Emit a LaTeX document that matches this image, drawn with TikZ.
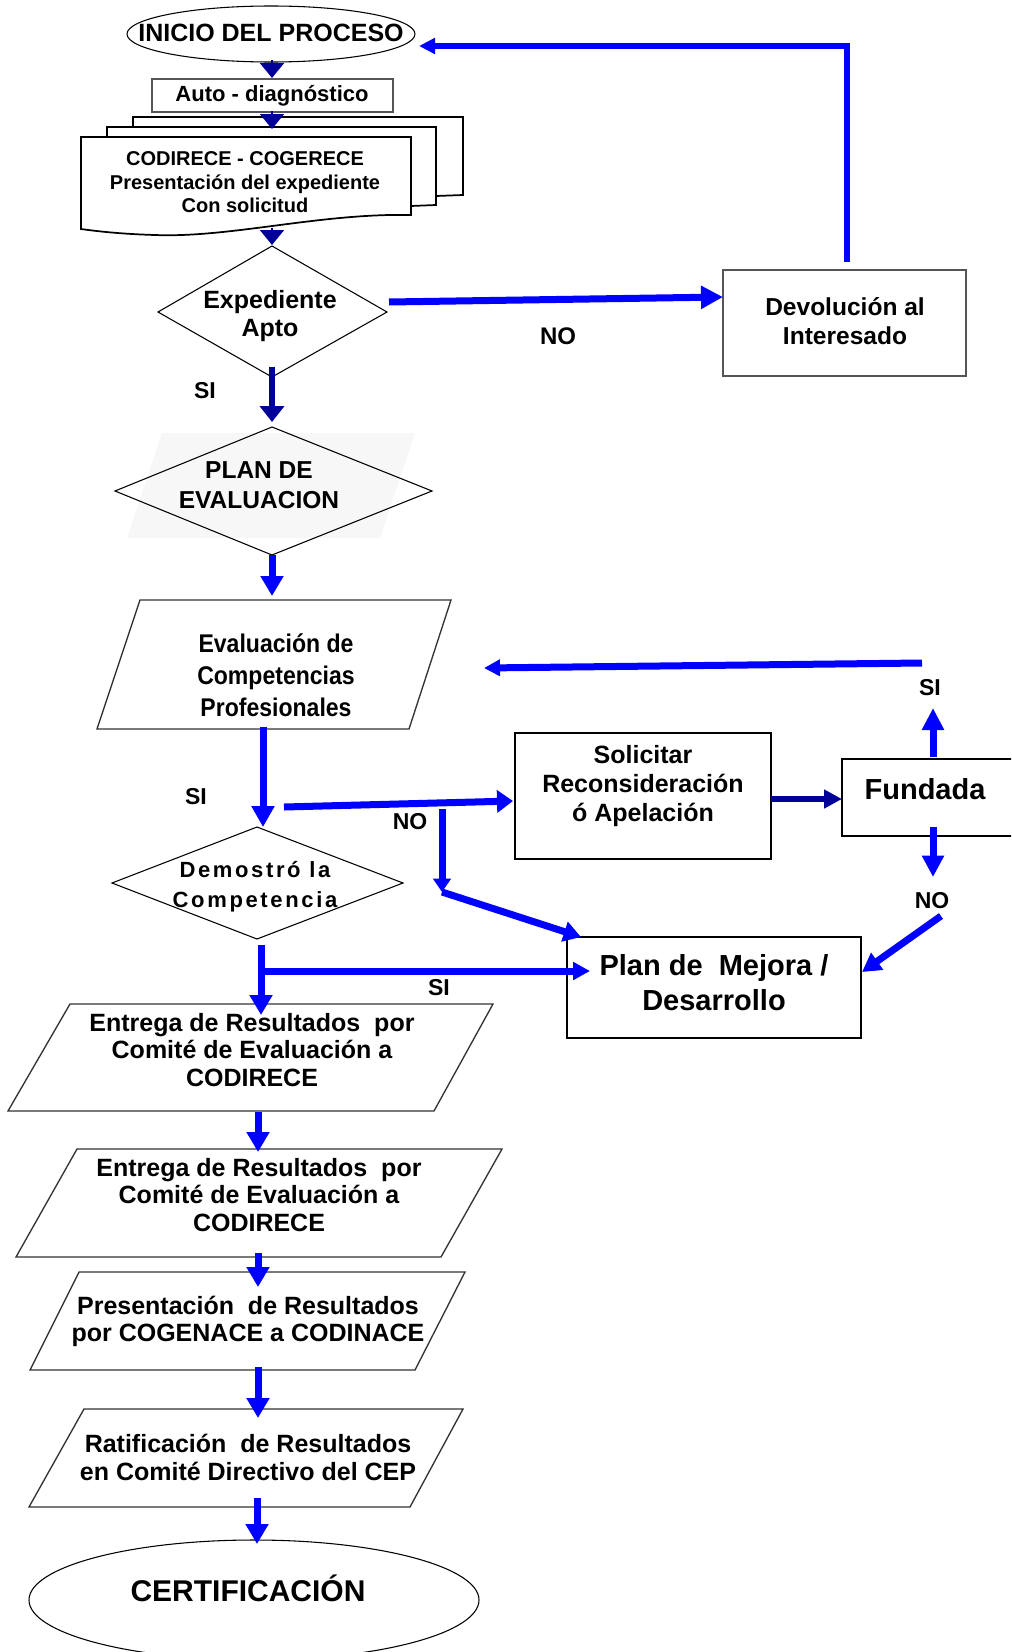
\documentclass[tikz,border=0pt]{standalone}
\usepackage{fontspec}
\setmainfont{Liberation Sans}
\newfontfamily\narrowfont[FakeStretch=0.9]{Liberation Sans}
\newfontfamily\spacedfont[LetterSpace=12]{Liberation Sans}
\usetikzlibrary{arrows.meta}
\definecolor{fblue}{RGB}{0,0,255}
\definecolor{fnavy}{RGB}{0,0,153}
\definecolor{fgray}{RGB}{85,85,85}
\definecolor{faint}{RGB}{247,247,247}
\newcommand\fsz[2]{\fontsize{#1}{#2}\selectfont\bfseries}
\tikzset{
 txt/.style={align=center, inner sep=0pt, text=black},
 thinshape/.style={draw=black, line width=0.8pt},
 pgram/.style={draw=black!80, line width=1pt},
 graybox/.style={draw=fgray, line width=1.3pt},
 blackbox/.style={draw=black, line width=1.6pt},
 docpage/.style={draw=black, line width=1.3pt, fill=white},
 bconn/.style={draw=fblue, line width=5.25pt, -{Triangle[length=15pt,width=16.5pt]}},
 nconn/.style={draw=fnavy, line width=4.5pt, -{Triangle[length=11.25pt,width=18pt]}},
 lbl/.style={inner sep=0pt, font=\fsz{17.25}{19}},
}
\begin{document}
\begin{tikzpicture}[x=0.75pt,y=-0.75pt]
\useasboundingbox (0,0) rectangle (1011,1652);
\fill[white] (0,0) rectangle (1011,1652);
\clip (0,0) rectangle (1011,1652);

% ---------- shapes ----------
\draw[thinshape] (271,34) ellipse [x radius=144, y radius=28];
\draw[graybox] (152,79) rectangle (393,112);
\draw[docpage] (133,117) -- (463,117) -- (463,195) -- (436,196) -- (133,198) -- cycle;
\draw[docpage] (107,127) -- (436,127) -- (436,205) -- (411,206) -- (107,208) -- cycle;
\draw[docpage] (81,137) -- (411,137) -- (411,215) .. controls (320,213) and (230,238) .. (155,235) .. controls (120,234) and (95,231) .. (81,229) -- cycle;
\draw[thinshape] (272,246) -- (387,312) -- (272,377) -- (158,312) -- cycle;
\draw[graybox] (723,270) rectangle (966,376);
\fill[faint] (162,433) -- (415,433) -- (380,538) -- (127,538) -- cycle;
\draw[thinshape] (272,427) -- (432,491) -- (272,555) -- (115,491) -- cycle;
\draw[pgram] (140,600) -- (451,600) -- (409,729) -- (97,729) -- cycle;
\draw[blackbox] (515,733) rectangle (771,859);
\draw[blackbox] (842,759) rectangle (1030,836);
\draw[thinshape] (257,827) -- (403,883) -- (257,939) -- (112,883) -- cycle;
\draw[blackbox] (567,937) rectangle (861,1038);
\draw[pgram] (70,1004) -- (493,1004) -- (434,1111) -- (8,1111) -- cycle;
\draw[pgram] (77,1149) -- (502,1149) -- (441,1257) -- (16,1257) -- cycle;
\draw[pgram] (79,1272) -- (465,1272) -- (415,1370) -- (30,1370) -- cycle;
\draw[pgram] (84,1409) -- (463,1409) -- (410,1507) -- (29,1507) -- cycle;
\draw[thinshape] (254,1600) ellipse [x radius=225, y radius=60];

% ---------- texts ----------
\node[txt, font=\fsz{18.75}{21}] (tini) at (271,33) {INICIO DEL PROCESO};
\node[txt, font=\fsz{16.5}{18}] (tauto) at (272,96) {Auto - diagnóstico};
\node[txt, font=\fsz{15}{17.6}] (tdoc) at (245,182.5) {CODIRECE - COGERECE\\Presentación del expediente\\Con solicitud};
\node[txt, font=\fsz{18.75}{21}] (texp) at (270,316) {Expediente\\Apto};
\node[txt, font=\fsz{18.4}{21.75}] (tdev) at (845,321.5) {Devolución al\\Interesado};
\node[txt, font=\fsz{18.4}{22.5}] (tplan) at (259,485) {PLAN DE\\EVALUACION};
\node[txt, font=\narrowfont\fsz{19.2}{24}] (teval) at (276,675) {Evaluación de\\Competencias\\Profesionales};
\node[txt, font=\fsz{18.75}{21.75}] (tsol) at (643,786) {Solicitar\\Reconsideración\\ó Apelación};
\node[txt, font=\fsz{21.75}{24}] (tfund) at (925,789) {Fundada};
\node[txt, font=\spacedfont\fsz{16.5}{22.5}] (tdem) at (255,887) {Demostró la\\Competencia};
\node[txt, font=\fsz{21.75}{26.25}] (tmej) at (714,982.5) {Plan de\ \ Mejora /\\Desarrollo};
\node[txt, font=\fsz{18.75}{20.6}] (tent1) at (252,1050) {Entrega de Resultados\ \ por\\Comité de Evaluación a\\CODIRECE};
\node[txt, font=\fsz{18.75}{20.6}] (tent2) at (259,1195) {Entrega de Resultados\ \ por\\Comité de Evaluación a\\CODIRECE};
\node[txt, font=\fsz{18.75}{20.25}] (tpres) at (248,1321.5) {Presentación\ \ de Resultados\\por COGENACE a CODINACE};
\node[txt, font=\fsz{18.75}{21}] (trat) at (248,1457) {Ratificación\ \ de Resultados\\en Comité Directivo del CEP};
\node[txt, font=\fsz{22.5}{24}] (tcert) at (248,1588) {CERTIFICACIÓN};

% ---------- labels ----------
\node[lbl, font=\fsz{18}{20}] (l1) at (558,336) {NO};
\node[lbl] (l2) at (205,391) {SI};
\node[lbl] (l3) at (196,797) {SI};
\node[lbl] (l4) at (410,822) {NO};
\node[lbl] (l5) at (930,688) {SI};
\node[lbl] (l6) at (932,901) {NO};
\node[lbl] (l7) at (439,988) {SI};

% ---------- connector points ----------
\coordinate (a1) at (272,60);   \coordinate (a2) at (272,78);
\coordinate (b1) at (272,111);  \coordinate (b2) at (272,129);
\coordinate (c1) at (272,228);  \coordinate (c2) at (272,245);
\coordinate (d1) at (272,367);  \coordinate (d2) at (272,422);
\coordinate (e1) at (389,302);  \coordinate (e2) at (723,297);
\coordinate (f1) at (847,262);  \coordinate (f2) at (847,46);  \coordinate (f3) at (419,46);
\coordinate (g1) at (272,555);  \coordinate (g2) at (272,596);
\coordinate (h1) at (263,727);  \coordinate (h2) at (263,827);
\coordinate (i1) at (284,807);  \coordinate (i2) at (513,801);
\coordinate (j1) at (442,809);  \coordinate (j2) at (442,892);  \coordinate (j3) at (581,937);
\coordinate (k1) at (771,799);  \coordinate (k2) at (842,799);
\coordinate (m1) at (933,757);  \coordinate (m2) at (933,708);
\coordinate (n1) at (922,663);  \coordinate (n2) at (484,668);
\coordinate (o1) at (933,827);  \coordinate (o2) at (933,877);
\coordinate (p1) at (941,916);  \coordinate (p2) at (862,972);
\coordinate (q1) at (261,945);  \coordinate (q2) at (261,1015);
\coordinate (s1) at (261,971);  \coordinate (s2) at (590,971);
\coordinate (t1) at (258,1112); \coordinate (t2) at (258,1152);
\coordinate (u1) at (258,1253); \coordinate (u2) at (258,1287);
\coordinate (v1) at (258,1367); \coordinate (v2) at (258,1418);
\coordinate (w1) at (257,1498); \coordinate (w2) at (257,1544);

% ---------- connectors ----------
\draw[nconn, line width=1.5pt] (a1) -- (a2);
\draw[nconn, line width=1.5pt] (b1) -- (b2);
\draw[nconn, line width=1.5pt] (c1) -- (c2);
\draw[nconn, -{Triangle[length=12pt,width=18pt]}] (d1) -- (d2);
\draw[bconn, -{Triangle[length=16.5pt,width=16.5pt]}] (e1) -- (e2);
\draw[bconn, line width=5pt, line join=miter, -{Triangle[length=12pt,width=11.5pt]}] (f1) -- (f2) -- (f3);
\draw[bconn] (g1) -- (g2);
\draw[bconn, -{Triangle[length=15.75pt,width=16.5pt]}] (h1) -- (h2);
\draw[bconn, -{Triangle[length=12pt,width=16.5pt]}] (i1) -- (i2);
\draw[bconn, -{Triangle[length=10pt,width=13pt]}] (j1) -- (j2);
\draw[bconn, -{Triangle[length=13pt,width=15pt]}] (j2) -- (j3);
\draw[nconn, -{Triangle[length=13.5pt,width=13.5pt]}] (k1) -- (k2);
\draw[bconn, -{Triangle[length=16.5pt,width=15.75pt]}] (m1) -- (m2);
\draw[bconn, -{Triangle[length=12pt,width=12pt]}] (n1) -- (n2);
\draw[bconn, -{Triangle[length=16pt,width=15.75pt]}] (o1) -- (o2);
\draw[bconn, -{Triangle[length=14pt,width=15pt]}] (p1) -- (p2);
\draw[bconn] (q1) -- (q2);
\draw[bconn, -{Triangle[length=12.75pt,width=13pt]}] (s1) -- (s2);
\draw[bconn] (t1) -- (t2);
\draw[bconn] (u1) -- (u2);
\draw[bconn] (v1) -- (v2);
\draw[bconn] (w1) -- (w2);
\end{tikzpicture}
\end{document}
